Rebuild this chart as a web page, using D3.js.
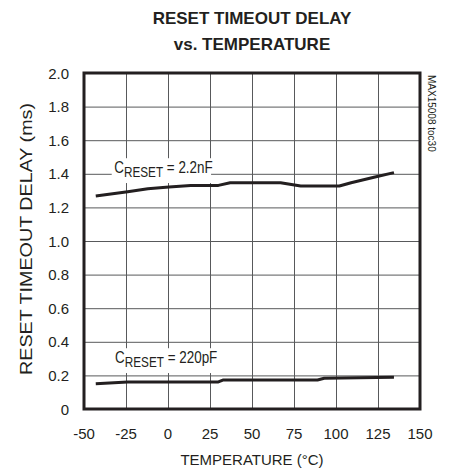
<!DOCTYPE html>
<html>
<head>
  <script src="https://d3js.org/d3.v7.min.js"></script>
  <style>
    body { margin: 0; background: #fff; }
    text { font-family: "Liberation Sans", Arial, sans-serif; fill: #231f20; }
    .grid line { stroke: #58595b; stroke-width: 1; }
    .grid .domain { stroke: none; }
  </style>
</head>
<body>
<div id="chart"></div>
<script>
// temperatures (°C) and delays (ms)
const temps2n2 = [-43, -24, -12, 0.6, 13.5, 30, 37, 67, 79, 102, 109, 122.6, 134.5];
const delay2n2 = [1.268, 1.293, 1.311, 1.321, 1.331, 1.331, 1.347, 1.347, 1.327, 1.327, 1.347, 1.379, 1.407];

const temps220p = [-43, -24, 30, 33, 89, 93, 134.5];
const delay220p = [0.150, 0.161, 0.161, 0.173, 0.173, 0.183, 0.189];

const xTicks = [-50, -25, 0, 25, 50, 75, 100, 125, 150];
const yTicks = [0, 0.2, 0.4, 0.6, 0.8, 1.0, 1.2, 1.4, 1.6, 1.8, 2.0];

const series = [
  { sub: "RESET", rest: " = 2.2nF", temps: temps2n2, vals: delay2n2, labelT: -32, labelV: 1.403 },
  { sub: "RESET", rest: " = 220pF", temps: temps220p, vals: delay220p, labelT: -31.5, labelV: 0.272 }
];

const width = 451, height = 474;
const margins = { top: 73, right: 31, bottom: 65, left: 84 };
const chartWidth = width - margins.left - margins.right;
const chartHeight = height - margins.top - margins.bottom;

const svg = d3.select("#chart").append("svg")
  .attr("width", width)
  .attr("height", height);

svg.append("rect").attr("width", width).attr("height", height).attr("fill", "#fff");

const chartArea = svg.append("g")
  .attr("transform", `translate(${margins.left},${margins.top})`);

const xScale = d3.scaleLinear().domain([-50, 150]).range([0, chartWidth]);
const yScale = d3.scaleLinear().domain([0, 2]).range([chartHeight, 0]);

// gridlines
chartArea.append("g")
  .attr("class", "grid")
  .call(d3.axisLeft(yScale).tickValues(yTicks).tickSize(-chartWidth).tickFormat(""));
chartArea.append("g")
  .attr("class", "grid")
  .call(d3.axisBottom(xScale).tickValues(xTicks).tickSize(chartHeight).tickFormat(""));

// curves
const line = d3.line().x(d => xScale(d[0])).y(d => yScale(d[1]));
series.forEach(s => {
  const pts = s.temps.map((t, i) => [t, s.vals[i]]);
  chartArea.append("path")
    .attr("d", line(pts))
    .attr("fill", "none")
    .attr("stroke", "#231f20")
    .attr("stroke-width", 3)
    .attr("stroke-linejoin", "round");
});

// labels with white background (narrow type, so squeeze horizontally)
series.forEach(s => {
  const g = chartArea.append("g")
    .attr("transform", `translate(${xScale(s.labelT)},${yScale(s.labelV)}) scale(0.84,1)`);
  const bg = g.append("rect").attr("fill", "#fff");
  const t = g.append("text")
    .attr("font-size", 16);
  t.append("tspan").text("C");
  t.append("tspan").attr("dy", 3.5).attr("font-size", 14).text(s.sub);
  t.append("tspan").attr("dy", -3.5).text(s.rest);
  const bb = t.node().getBBox();
  bg.attr("x", bb.x - 3).attr("y", bb.y - 1)
    .attr("width", bb.width + 1).attr("height", bb.height + 4);
});

// frame
chartArea.append("rect")
  .attr("width", chartWidth).attr("height", chartHeight)
  .attr("fill", "none").attr("stroke", "#231f20").attr("stroke-width", 3);

// tick labels
chartArea.selectAll(".ytl").data(yTicks).join("text")
  .attr("x", -15)
  .attr("y", d => yScale(d) + 5.5)
  .attr("text-anchor", "end")
  .attr("font-size", 15)
  .text(d => d === 0 ? "0" : d.toFixed(1));

chartArea.selectAll(".xtl").data(xTicks).join("text")
  .attr("x", d => xScale(d))
  .attr("y", chartHeight + 30)
  .attr("text-anchor", "middle")
  .attr("font-size", 15)
  .text(d => d);

// axis titles
svg.append("text")
  .attr("x", margins.left + chartWidth / 2)
  .attr("y", 465)
  .attr("text-anchor", "middle")
  .attr("font-size", 15)
  .text("TEMPERATURE (°C)");

svg.append("text")
  .attr("transform", `translate(32, 239) rotate(-90)`)
  .attr("text-anchor", "middle")
  .attr("font-size", 17)
  .attr("textLength", 272)
  .attr("lengthAdjust", "spacingAndGlyphs")
  .text("RESET TIMEOUT DELAY (ms)");

// chart title
svg.append("text")
  .attr("x", 252).attr("y", 24)
  .attr("text-anchor", "middle")
  .attr("font-size", 17).attr("font-weight", "bold")
  .text("RESET TIMEOUT DELAY");
svg.append("text")
  .attr("x", 252).attr("y", 50)
  .attr("text-anchor", "middle")
  .attr("font-size", 17).attr("font-weight", "bold")
  .text("vs. TEMPERATURE");

// side code
svg.append("text")
  .attr("transform", `translate(428, 75) rotate(90)`)
  .attr("font-size", 10)
  .text("MAX15008 toc30");
</script>
</body>
</html>
